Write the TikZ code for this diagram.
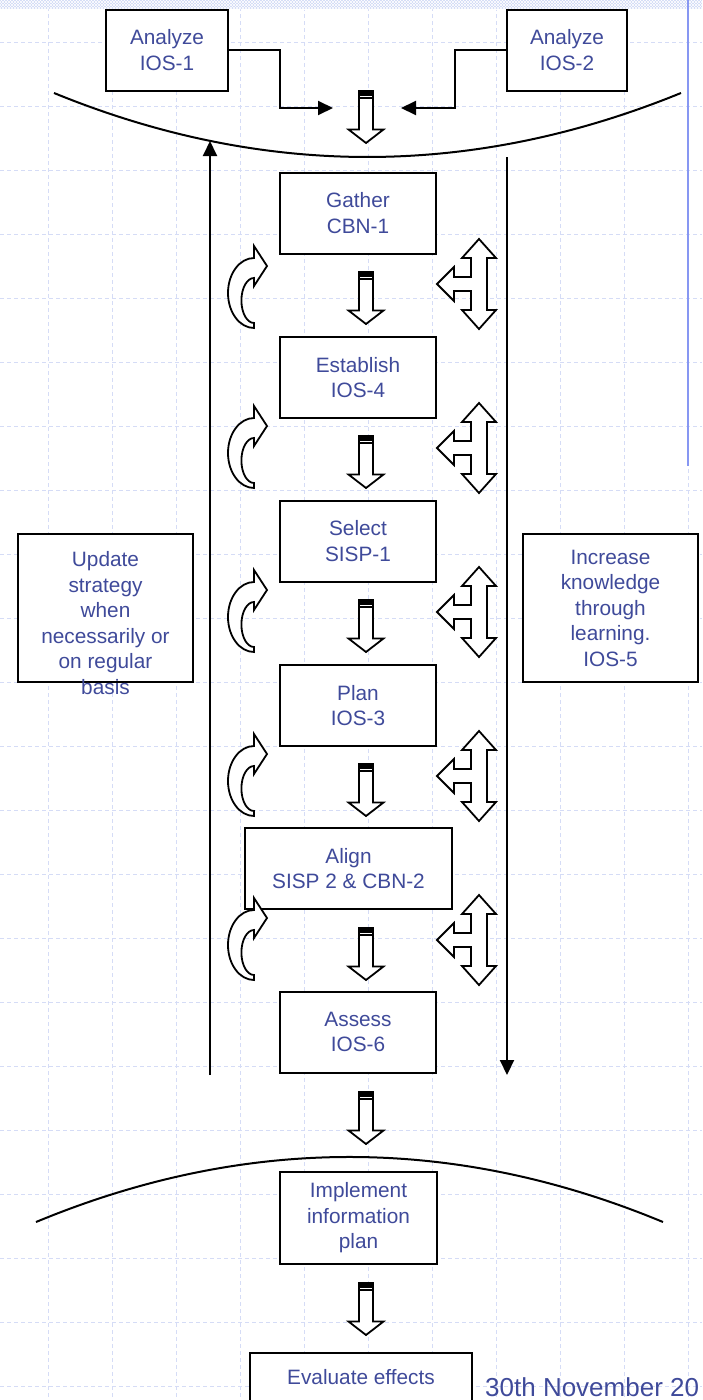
\documentclass[tikz,border=0pt]{standalone}
\usepackage{fontspec}
\setmainfont{Liberation Sans}
\usetikzlibrary{calc,arrows.meta,patterns}
\definecolor{txtblue}{HTML}{3F4A9A}
\definecolor{gridblue}{HTML}{D5DCF6}
\definecolor{bandblue}{HTML}{CFD8F6}
\definecolor{railblue}{HTML}{8797F2}
\tikzset{
  stepbox/.style={draw=black,line width=2pt,fill=white,minimum width=156pt,minimum height=81pt,inner sep=0pt,align=center,text=txtblue,font=\fontsize{20.8}{25.5}\selectfont},
  conn/.style={line width=2pt,-{Triangle[length=15pt,width=14pt]}},
  hollow/.style={draw=black,line width=1.8pt,fill=white,line join=miter},
  gridline/.style={gridblue,line width=1pt,dash pattern=on 4pt off 3pt},
  downarr/.pic={
    \draw[hollow] (-7,0) -- (7,0) -- (7,38.5) -- (17.5,38.5) -- (0,52) -- (-17.5,38.5) -- (-7,38.5) -- cycle;
    \fill (-7,0) rectangle (7,5);
    \draw[line width=1.2pt] (-7,7) -- (7,7);
  },
  turnarr/.pic={
    \draw[hollow] (0,0) -- (13,20) -- (0,40) -- (0,32)
      .. controls (-6.96,32) and (-12.6,42.07) .. (-12.6,54.5)
      .. controls (-12.6,66.93) and (-6.96,77) .. (0,77) -- (0,82)
      .. controls (-14.36,82) and (-26,66.33) .. (-26,47)
      .. controls (-26,27.67) and (-14.36,12) .. (0,12) -- cycle;
  },
  forkarr/.pic={
    \draw[hollow] (0,-45) -- (17,-26) -- (8,-26) -- (8,26) -- (17,26) -- (0,45) -- (-17,26) -- (-8,26)
      -- (-8,7) -- (-25,7) -- (-25,17) -- (-42,0) -- (-25,-17) -- (-25,-7) -- (-8,-7) -- (-8,-26) -- (-17,-26) -- cycle;
  }
}

\begin{document}
\begin{tikzpicture}[x=1pt,y=-1pt]
\useasboundingbox (0,0) rectangle (702,1400);
\foreach \gx in {48,112,...,688} \draw[gridline] (\gx,0) -- (\gx,1400);
\foreach \gy in {42,106,...,1386} \draw[gridline] (0,\gy) -- (702,\gy);
\fill[bandblue] (0,0) rectangle (702,9);
\fill[pattern=north east lines,pattern color=white] (0,0) rectangle (702,9);
\fill[pattern=north west lines,pattern color=white] (0,0) rectangle (702,9);
\draw[railblue,line width=2.5pt] (688,0) -- (688,466);

\draw[line width=2pt] (54,93) .. controls (262.7,178.3) and (471.7,178.3) .. (681,93);
\draw[line width=2pt] (36,1222) .. controls (245,1135.3) and (454,1135.3) .. (663,1222);

\node[stepbox,minimum width=122pt] (an1) at (167,50) {Analyze\\IOS-1};
\node[stepbox,minimum width=120pt] (an2) at (567,50) {Analyze\\IOS-2};
\coordinate (inL) at (333,108);
\coordinate (inR) at (401,108);
\draw[conn] (an1.east) -| (280,108) -- (inL);
\draw[conn] (an2.west) -| (455,108) -- (inR);

\coordinate (lbot) at (210,1075);
\coordinate (ltop) at (210,141);
\coordinate (rtop) at (507,157);
\coordinate (rbot) at (507,1075);
\draw[conn] (lbot) -- (ltop);
\draw[conn] (rtop) -- (rbot);

\node[stepbox] (gather) at (358,213) {Gather\\CBN-1};
\node[stepbox] (establish) at (358,377.5) {Establish\\IOS-4};
\node[stepbox] (select) at (358,541) {Select\\SISP-1};
\node[stepbox] (plan) at (358,705.5) {Plan\\IOS-3};
\node[stepbox,minimum width=207pt] (align) at (348.5,868.5) {Align\\SISP 2 \& CBN-2};
\node[stepbox] (assess) at (358,1032) {Assess\\IOS-6};
\node[stepbox,minimum width=157pt,minimum height=92pt] (implement) at (358.5,1218) {Implement\\information\\plan};
\node[stepbox,minimum width=222pt,minimum height=48pt] (evaluate) at (361,1377) {Evaluate effects};

\node[stepbox,minimum width=175pt,minimum height=148pt] (update) at (105.5,608) {};
\node[align=center,text=txtblue,font=\fontsize{20.8}{25.5}\selectfont,inner sep=0pt] (updatetxt) at (105.5,623)
  {Update\\strategy\\when\\necessarily or\\on regular\\basis};
\node[stepbox,minimum width=175pt,minimum height=148pt] (increase) at (610.5,608)
  {Increase\\knowledge\\through\\learning.\\IOS-5};

\foreach \ay in {91,272,436,600,764,928,1092,1283} \pic at (366,\ay) {downarr};
\foreach \cy in {246,406,570,734,898} \pic at (254,\cy) {turnarr};
\foreach \ty in {284,448,612,776,940} \pic at (479,\ty) {forkarr};

\node[anchor=base west,inner sep=0pt,text=txtblue,font=\fontsize{26}{30}\selectfont] (date) at (485,1396) {30th November 20};
\end{tikzpicture}
\end{document}
